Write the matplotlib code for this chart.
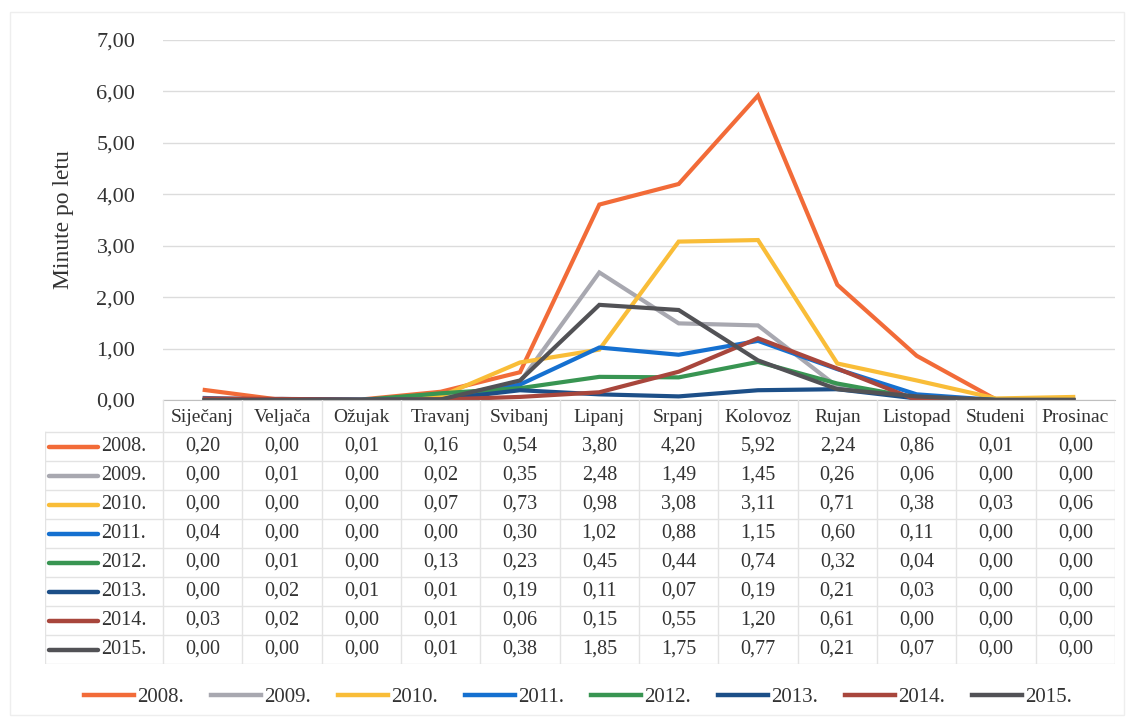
import matplotlib
matplotlib.use("Agg")
import matplotlib.pyplot as plt
from matplotlib.lines import Line2D
from matplotlib.patches import Rectangle
from matplotlib.ticker import FuncFormatter

plt.rcParams['font.family'] = ['Liberation Serif', 'DejaVu Serif']

months = ["Siječanj", "Veljača", "Ožujak", "Travanj", "Svibanj", "Lipanj",
          "Srpanj", "Kolovoz", "Rujan", "Listopad", "Studeni", "Prosinac"]
years = ["2008.", "2009.", "2010.", "2011.", "2012.", "2013.", "2014.", "2015."]

v2008 = [0.20, 0.00, 0.01, 0.16, 0.54, 3.80, 4.20, 5.92, 2.24, 0.86, 0.01, 0.00]
v2009 = [0.00, 0.01, 0.00, 0.02, 0.35, 2.48, 1.49, 1.45, 0.26, 0.06, 0.00, 0.00]
v2010 = [0.00, 0.00, 0.00, 0.07, 0.73, 0.98, 3.08, 3.11, 0.71, 0.38, 0.03, 0.06]
v2011 = [0.04, 0.00, 0.00, 0.00, 0.30, 1.02, 0.88, 1.15, 0.60, 0.11, 0.00, 0.00]
v2012 = [0.00, 0.01, 0.00, 0.13, 0.23, 0.45, 0.44, 0.74, 0.32, 0.04, 0.00, 0.00]
v2013 = [0.00, 0.02, 0.01, 0.01, 0.19, 0.11, 0.07, 0.19, 0.21, 0.03, 0.00, 0.00]
v2014 = [0.03, 0.02, 0.00, 0.01, 0.06, 0.15, 0.55, 1.20, 0.61, 0.00, 0.00, 0.00]
v2015 = [0.00, 0.00, 0.00, 0.01, 0.38, 1.85, 1.75, 0.77, 0.21, 0.07, 0.00, 0.00]
series = [v2008, v2009, v2010, v2011, v2012, v2013, v2014, v2015]

colors = ["#F26B38", "#A8A8B0", "#F9BD38", "#1570D0", "#389552", "#1C4F88",
          "#A8463C", "#525256"]

yticks = [0, 1, 2, 3, 4, 5, 6, 7]

W, H = 1134, 727
fig = plt.figure(figsize=(W / 100, H / 100), dpi=100)
fig.patch.set_facecolor("white")

# faint chart border
fig.patches.append(Rectangle((10 / W, 1 - 715 / H), 1114 / W, 703 / H,
                             transform=fig.transFigure, fill=False,
                             edgecolor="#EEEEEE", lw=1))

px_left, px_right = 163, 1115
px_top, px_bot = 40, 400
ax = fig.add_axes([px_left / W, 1 - px_bot / H, (px_right - px_left) / W,
                   (px_bot - px_top) / H])
x = list(range(len(months)))
for vals, c, y in zip(series, colors, years):
    ax.plot(x, vals, color=c, lw=3.0, solid_capstyle="butt",
            solid_joinstyle="miter", label=y)
ax.set_xlim(-0.5, 11.5)
ax.set_ylim(0, 7)
ax.set_yticks(yticks)
ax.yaxis.set_major_formatter(FuncFormatter(lambda v, p: f"{v:.2f}".replace(".", ",")))
ax.tick_params(axis="y", length=0, pad=20, labelsize=16, labelcolor="#333333")
ax.set_xticks([])
ax.grid(axis="y", color="#DCDCDC", lw=1)
ax.set_axisbelow(True)
for s in ["left", "right", "top"]:
    ax.spines[s].set_visible(False)
ax.spines["bottom"].set_color("#BFBFBF")
ax.set_ylabel("Minute po letu", fontsize=17, color="#333333", labelpad=16)

# data table
t_left, t_right, t_top, t_bot = 45, 1115, 400, 664
colw = (px_right - px_left) / 12.0
x0 = -0.5 - (px_left - t_left) / colw
axt = fig.add_axes([t_left / W, 1 - t_bot / H, (t_right - t_left) / W,
                    (t_bot - t_top) / H])
axt.set_xlim(x0, 11.5)
axt.set_ylim(t_bot, t_top)
axt.axis("off")
gc = "#E3E3E3"
hdr_bot = 432
rowh = (t_bot - hdr_bot) / len(years)
# vertical lines
for k in range(13):
    axt.plot([k - 0.5, k - 0.5], [t_top, t_bot], color=gc, lw=1)
axt.plot([x0, x0], [hdr_bot, t_bot], color=gc, lw=1)
# horizontal lines
for r in range(len(years) + 1):
    yy = hdr_bot + r * rowh
    axt.plot([x0, 11.5], [yy, yy], color=gc, lw=1)
# header
for i, m in enumerate(months):
    axt.text(i, (t_top + hdr_bot) / 2 + 2, m, ha="center", va="center",
             fontsize=14, color="#333333")
# rows
for r, (vals, c, y) in enumerate(zip(series, colors, years)):
    yc = hdr_bot + (r + 0.5) * rowh
    axt.plot([x0 + 4 / colw, x0 + 53 / colw], [yc, yc], color=c, lw=3.2,
             solid_capstyle="round")
    axt.text(x0 + 56 / colw, yc, y, ha="left", va="center", fontsize=14.5,
             color="#333333")
    for i, v in enumerate(vals):
        axt.text(i, yc, f"{v:.2f}".replace(".", ","), ha="center", va="center",
                 fontsize=14.5, color="#333333")

# legend
handles = [Line2D([0], [0], color=c, lw=3.2) for c in colors]
fig.legend(handles, years, loc="center", bbox_to_anchor=(0.51, 1 - 697 / H),
           ncol=8, frameon=False, fontsize=15, handlelength=2.4,
           handletextpad=0.15, columnspacing=1.3, labelcolor="#333333")

fig.savefig("out.png", dpi=100, facecolor="white")
